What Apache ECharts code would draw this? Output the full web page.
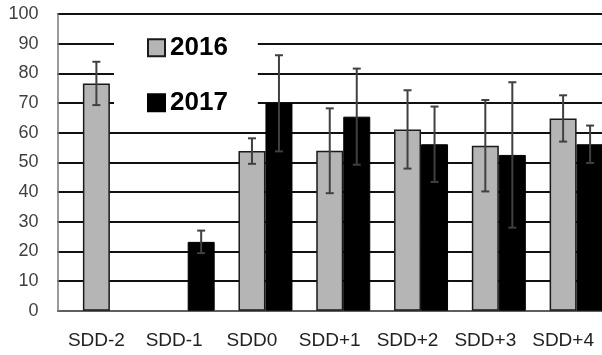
<!DOCTYPE html>
<html>
<head>
<meta charset="utf-8">
<script src="https://cdn.jsdelivr.net/npm/echarts@6/dist/echarts.min.js"></script>
<style>
html,body{margin:0;padding:0;background:#fff;}
#chart{width:602px;height:355px;}
</style>
</head>
<body>
<div id="chart"></div>
<script>
const categories = ['SDD-2','SDD-1','SDD0','SDD+1','SDD+2','SDD+3','SDD+4'];
const mean2016 = [76.6, null, 53.8, 53.9, 61.1, 55.6, 64.8];
const err2016  = [7.3, null, 4.3, 14.3, 13.2, 15.4, 7.8];
const mean2017 = [null, 23.2, 69.9, 65.4, 56.1, 52.5, 56.1];
const err2017  = [null, 3.8, 16.2, 16.2, 12.7, 24.5, 6.3];
const yTicks = [0,10,20,30,40,50,60,70,80,90,100];

const BAR_W = 27;

function errData(means, errs) {
  const out = [];
  means.forEach((m, i) => {
    if (m != null && errs[i] != null) out.push([i, m - errs[i], m + errs[i]]);
  });
  return out;
}

function errRender(shift) {
  return function (params, api) {
    const i = api.value(0);
    const lo = api.coord([i, api.value(1)]);
    const hi = api.coord([i, api.value(2)]);
    const x = lo[0] + shift;
    const style = { stroke: '#404040', lineWidth: 2 };
    return {
      type: 'group',
      children: [
        { type: 'line', shape: { x1: x, y1: lo[1], x2: x, y2: hi[1] }, style },
        { type: 'line', shape: { x1: x - 4, y1: lo[1], x2: x + 4, y2: lo[1] }, style },
        { type: 'line', shape: { x1: x - 4, y1: hi[1], x2: x + 4, y2: hi[1] }, style }
      ]
    };
  };
}

const chart = echarts.init(document.getElementById('chart'), null, { renderer: 'canvas' });
chart.setOption({
  animation: false,
  backgroundColor: '#fff',
  grid: { left: 57.5, right: -3.8, top: 14, bottom: 44.3, containLabel: false },
  legend: {
    data: [{ name: '2016', icon: 'rect' }, { name: '2017', icon: 'rect' }],
    orient: 'vertical',
    left: 114, top: 20.7,
    padding: [14, 30, 12, 33],
    backgroundColor: '#fff',
    itemWidth: 17, itemHeight: 17, itemGap: 29, itemTextGap: 9,
    textStyle: { fontFamily: 'Liberation Sans', fontWeight: 'bold', fontSize: 26, color: '#000', lineHeight: 26 }
  },
  xAxis: {
    type: 'category',
    data: categories,
    axisTick: { show: false },
    axisLine: { show: true, lineStyle: { color: '#7a7a7a', width: 1.5 } },
    axisLabel: { interval: 0, fontFamily: 'Liberation Sans', fontSize: 19, color: '#222', margin: 21 },
    splitLine: { show: false }
  },
  yAxis: {
    type: 'value',
    min: 0, max: 100, interval: 10,
    axisLine: { show: true, lineStyle: { color: '#7a7a7a', width: 1.5 } },
    axisTick: { show: false },
    axisLabel: {
      fontFamily: 'Liberation Sans', fontSize: 18, color: '#404040', margin: 19,
      formatter: v => (yTicks.indexOf(v) >= 0 ? String(v) : '')
    },
    splitLine: { show: true, lineStyle: { color: '#111', width: 2 } }
  },
  series: [
    { name: 'pad', type: 'bar', barWidth: BAR_W, barGap: 0, data: categories.map(() => null), silent: true },
    {
      name: '2016', type: 'bar', barWidth: BAR_W, barGap: 0, data: mean2016,
      itemStyle: { color: '#b5b5b5', borderColor: '#1a1a1a', borderWidth: 1.5 }
    },
    {
      name: '2017', type: 'bar', barWidth: BAR_W, barGap: 0, data: mean2017,
      itemStyle: { color: '#000', borderColor: '#000', borderWidth: 1 }
    },
    { name: 'e2016', type: 'custom', renderItem: errRender(0), data: errData(mean2016, err2016), z: 5, silent: true },
    { name: 'e2017', type: 'custom', renderItem: errRender(BAR_W), data: errData(mean2017, err2017), z: 5, silent: true }
  ]
});
</script>
</body>
</html>
